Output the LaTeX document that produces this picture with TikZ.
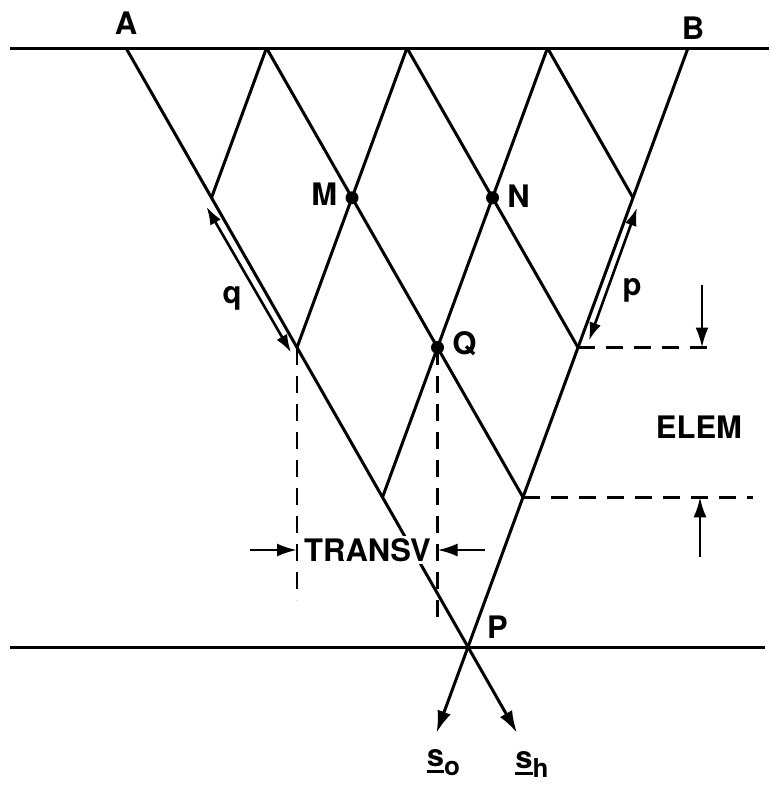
\documentclass[tikz,border=0pt]{standalone}
\usepackage{fontspec}
\setmainfont{TeX Gyre Heros}
\usetikzlibrary{arrows.meta,calc,positioning}

% underlined beam vector with its index
\newcommand\beamlbl[2]{\setbox0=\hbox{#1}\rlap{\raisebox{-7pt}{\rule{\wd0}{3.2pt}}}\box0\raisebox{-9pt}{\fontsize{26}{26}\selectfont #2}}

\tikzset{
  beam/.style={line width=3pt},
  guide/.style={line width=2.8pt, dash pattern=on 17pt off 11pt},
  dim/.style={line width=2.6pt, -{Latex[length=20pt,width=13pt]}},
  lbl/.style={font=\fontsize{31}{37}\selectfont\bfseries, inner sep=0pt},
  crossdot/.style={circle, fill, inner sep=0pt, minimum size=13pt}
}

\begin{document}
\begin{tikzpicture}[x=1pt,y=-1pt]
\useasboundingbox (0,0) rectangle (769,787);

% Lattice points L<row><index>
\foreach \r in {0,...,4}
{
    \pgfmathtruncatemacro\kmax{4-\r}
    \foreach \k in {0,...,\kmax}
    {
        \coordinate (L\r\k) at ({126+140.5*\k+85.5*\r},{48+149.75*\r});
    }
}

% Crystal surfaces
\coordinate (S1) at (10,48);
\coordinate (S2) at (769,48);
\coordinate (T1) at (10,647);
\coordinate (T2) at (765,647);
\draw[beam] (S1) -- (S2);
\draw[beam] (T1) -- (T2);

% Rays going down to the right
\foreach \k in {0,...,3}
{
    \pgfmathtruncatemacro\n{4-\k}
    \draw[beam] (L0\k) -- (L\n\k);
}

% Rays going down to the left
\foreach \m in {1,...,4}
{
    \draw[beam] (L0\m) -- (L\m0);
}

% Outgoing beams
\coordinate (so) at ($(L40)!-0.573!(L31)$);
\coordinate (sh) at ($(L40)!-0.573!(L30)$);
\draw[beam, -{Latex[length=22pt,width=14pt]}] (L40) -- (so);
\draw[beam, -{Latex[length=22pt,width=14pt]}] (L40) -- (sh);
\node[lbl, below=16pt of so, xshift=7pt] (solbl) {\beamlbl{s}{o}};
\node[lbl, below=18pt of sh, xshift=15pt] (shlbl) {\beamlbl{s}{h}};

% Dashed guides
\draw[guide] (L20) -- ($(L20)+(0,252)$);
\draw[guide] (L21) -- ($(L21)+(0,271)$);
\draw[guide] (L22) -- ($(L22)+(139,0)$);
\draw[guide] (L31) -- ($(L31)+(230,0)$);

% Marked points
\node[crossdot] (M) at (L11) {};
\node[crossdot] (N) at (L12) {};
\node[crossdot] (Q) at (L21) {};
\node[lbl, left=8pt of M, yshift=4pt] {M};
\node[lbl, right=8pt of N, yshift=2pt] {N};
\node[lbl, right=8pt of Q, yshift=4pt] {Q};
\node[lbl, above right=8pt and 19pt of L40] {P};
\node[lbl, above=13pt of L00] {A};
\node[lbl, above=8pt of L04, xshift=5pt] {B};

% Side lengths q and p
\draw[dim, {Latex[length=18pt,width=12pt]}-{Latex[length=18pt,width=12pt]}] ($(L10)+(-5,9)$) -- ($(L20)+(-6,5)$);
\draw[dim, {Latex[length=18pt,width=12pt]}-{Latex[length=18pt,width=12pt]}] ($(L13)+(4,10)$) -- ($(L22)+(11,-7)$);
\node[lbl] (q) at (232,298) {q};
\node[lbl] (p) at (632,290) {p};

% Element height
\coordinate (E1) at (702,285);
\coordinate (E3) at (700,557);
\draw[dim] (E1) -- (E1 |- L22);
\draw[dim] (E3) -- (E3 |- L31);
\node[lbl] (elem) at (699,427) {ELEM};

% Transverse width
\node[lbl, fill=white, inner sep=2pt] (transv) at (367.5,550) {TRANSV};
\coordinate (W1) at (250,550);
\coordinate (W2) at (485,550);
\draw[dim] (W1) -- (L20 |- transv);
\draw[dim] (W2) -- (L21 |- transv);

\end{tikzpicture}
\end{document}
